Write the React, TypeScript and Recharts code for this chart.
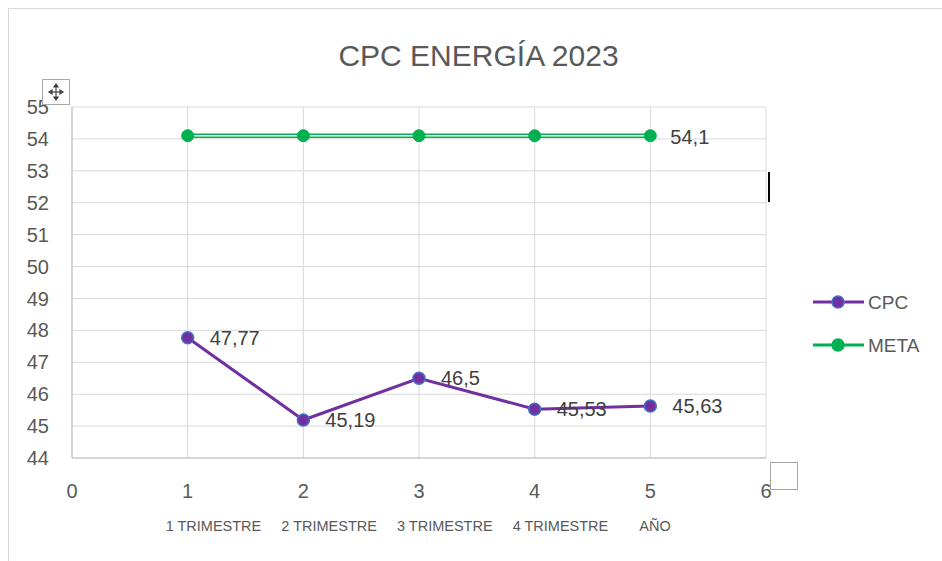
import React from 'react';
import { LineChart, Line, XAxis, YAxis, CartesianGrid, Legend } from 'recharts';

const xPositions = [1, 2, 3, 4, 5];
const categories = ['1 TRIMESTRE', '2 TRIMESTRE', '3 TRIMESTRE', '4 TRIMESTRE', 'AÑO'];
const cpcValues = [47.77, 45.19, 46.5, 45.53, 45.63];
const metaValues = [54.1, 54.1, 54.1, 54.1, 54.1];
const xTicks = [0, 1, 2, 3, 4, 5, 6];
const yTicks = [44, 45, 46, 47, 48, 49, 50, 51, 52, 53, 54, 55];
const seriesNames = ['CPC', 'META'];
const chartTitle = 'CPC ENERGÍA 2023';

const data = xPositions.map((x, i) => ({
  x,
  cat: categories[i],
  [seriesNames[0]]: cpcValues[i],
  [seriesNames[1]]: metaValues[i],
}));

const FONT = '"Liberation Sans", Arial, sans-serif';
const TEXT = '#595959';
const LABEL = '#404040';
const PURPLE = '#7030A0';
const BLUE = '#4472C4';
const GREEN = '#00B050';

const seriesStyle: Record<string, { line: string; dotFill: string; dotStroke: string }> = {
  CPC: { line: PURPLE, dotFill: PURPLE, dotStroke: BLUE },
  META: { line: GREEN, dotFill: GREEN, dotStroke: GREEN },
};

const fmt = (v: number) => String(v).replace('.', ',');

const XTick = (props: any) => {
  const { x, y, payload } = props;
  const v = payload.value;
  const idx = xPositions.indexOf(v);
  const cat = idx >= 0 ? categories[idx] : null;
  const start = cat && cat.length > 5 ? x - 22 : x - 11;
  return (
    <g>
      <text x={x} y={y + 40} textAnchor="middle" fill={TEXT} fontSize={20} fontFamily={FONT}>
        {v}
      </text>
      {cat && (
        <text x={start} y={y + 73} textAnchor="start" fill={TEXT} fontSize={14.5} fontFamily={FONT}>
          {cat}
        </text>
      )}
    </g>
  );
};

const cpcLabel = (props: any) => {
  const { x, y, value } = props;
  return (
    <text x={x + 22} y={y + 7} fill={LABEL} fontSize={20} fontFamily={FONT} textAnchor="start">
      {fmt(value)}
    </text>
  );
};

const metaLabel = (props: any) => {
  const { x, y, value, index } = props;
  if (index !== xPositions.length - 1) return <g />;
  return (
    <text x={x + 20} y={y + 8} fill={LABEL} fontSize={20} fontFamily={FONT} textAnchor="start">
      {fmt(value)}
    </text>
  );
};

const renderLegend = (props: any) => {
  const items = (props.payload || []).filter((p: any) => seriesNames.includes(p.value));
  return (
    <svg width={130} height={80}>
      {items.map((p: any, i: number) => {
        const s = seriesStyle[p.value];
        const cy = 17 + i * 43;
        return (
          <g key={p.value}>
            <line x1={1} x2={52} y1={cy} y2={cy} stroke={s.line} strokeWidth={3} />
            <circle cx={26} cy={cy} r={6} fill={s.dotFill} stroke={s.dotStroke} strokeWidth={1.5} />
            <text x={56} y={cy + 7} fill={TEXT} fontSize={19} fontFamily={FONT}>
              {p.value}
            </text>
          </g>
        );
      })}
    </svg>
  );
};

export default function App() {
  return (
    <div style={{ position: 'absolute', left: 0, top: 0, width: 942, height: 561, background: '#fff', overflow: 'hidden' }}>
      <div
        style={{
          position: 'absolute',
          left: 8,
          top: 8,
          width: 960,
          height: 600,
          borderLeft: '1px solid #d9d9d9',
          borderTop: '1px solid #d9d9d9',
        }}
      />
      <div
        style={{
          position: 'absolute',
          left: 0,
          width: 957,
          top: 40,
          textAlign: 'center',
          fontFamily: FONT,
          fontSize: 30,
          lineHeight: '32px',
          color: TEXT,
        }}
      >
        {chartTitle}
      </div>
      <div style={{ position: 'absolute', left: 0, top: 0 }}>
        <LineChart width={942} height={561} data={data} margin={{ top: 107, right: 176, bottom: 0, left: 0 }}>
          <CartesianGrid stroke="#d9d9d9" strokeWidth={1} />
          <XAxis
            type="number"
            dataKey="x"
            domain={[0, 6]}
            ticks={xTicks}
            interval={0}
            height={103}
            axisLine={{ stroke: '#bfbfbf' }}
            tickLine={false}
            tickSize={0}
            tickMargin={0}
            tick={<XTick />}
          />
          <YAxis
            type="number"
            domain={[44, 55]}
            ticks={yTicks}
            interval={0}
            width={72}
            axisLine={{ stroke: '#bfbfbf' }}
            tickLine={false}
            tickSize={0}
            tickMargin={23}
            tick={{ fill: TEXT, fontSize: 20, fontFamily: FONT }}
          />
          <Legend
            layout="vertical"
            align="center"
            verticalAlign="middle"
            wrapperStyle={{ left: 812, top: 285, width: 130, height: 80 }}
            content={renderLegend}
          />
          <Line
            dataKey="META"
            name="META"
            stroke={GREEN}
            strokeWidth={4.5}
            dot={{ r: 6, fill: GREEN, stroke: GREEN, strokeWidth: 1 }}
            label={metaLabel}
            isAnimationActive={false}
          />
          <Line
            dataKey="META"
            name="META-inner"
            stroke="#ffffff"
            strokeWidth={1.4}
            dot={false}
            legendType="none"
            isAnimationActive={false}
          />
          <Line
            dataKey="CPC"
            name="CPC"
            stroke={PURPLE}
            strokeWidth={3}
            dot={{ r: 6, fill: PURPLE, stroke: BLUE, strokeWidth: 1.5 }}
            label={cpcLabel}
            isAnimationActive={false}
          />
        </LineChart>
      </div>
      <svg style={{ position: 'absolute', left: 0, top: 0, pointerEvents: 'none' }} width={942} height={561}>
        <rect x={42.5} y={79.5} width={27} height={25} fill="#fff" stroke="#a6a6a6" strokeWidth={1} />
        <g stroke="#404040" strokeWidth={1.2} fill="#404040">
          <line x1={49} x2={63} y1={92} y2={92} />
          <line x1={56} x2={56} y1={84} y2={100} />
          <path d="M49 92 L52 90 L52 94 Z" />
          <path d="M63 92 L60 90 L60 94 Z" />
          <path d="M56 84 L54 87 L58 87 Z" />
          <path d="M56 100 L54 97 L58 97 Z" />
        </g>
        <rect x={770.5} y={462.5} width={27} height={27} fill="#fff" stroke="#a6a6a6" strokeWidth={1} />
        <line x1={769} x2={769} y1={172} y2={202} stroke="#000" strokeWidth={2} />
      </svg>
    </div>
  );
}
